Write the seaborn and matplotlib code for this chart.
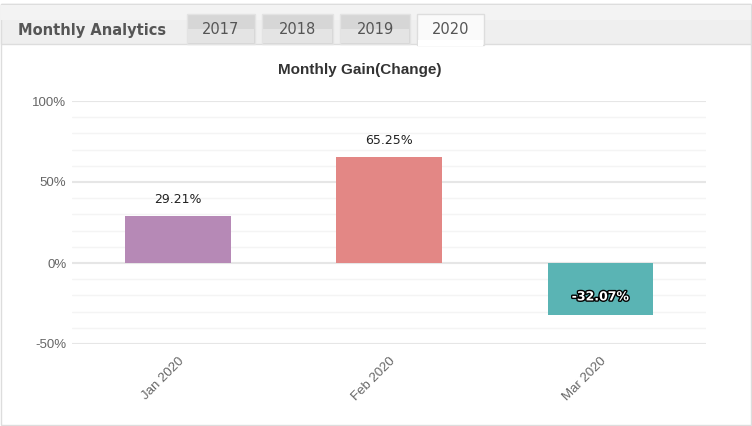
import matplotlib
matplotlib.use("Agg")
import matplotlib.pyplot as plt
import matplotlib.patheffects as pe
from matplotlib.patches import Rectangle
from matplotlib.ticker import MultipleLocator, FuncFormatter
import seaborn as sns
import pandas as pd

months = ["Jan 2020", "Feb 2020", "Mar 2020"]
gains = [29.21, 65.25, -32.07]
bar_colors = ["#B689B6", "#E38785", "#5AB4B4"]
tabs = ["2017", "2018", "2019", "2020"]

sns.set_theme(style="white")
plt.rcParams['font.family'] = ['Liberation Sans', 'DejaVu Sans']

W, H = 752, 426
fig = plt.figure(figsize=(W / 100, H / 100), dpi=100)
fig.patch.set_facecolor("white")

def px(x, y):
    return x / W, 1 - y / H

def rect(x0, y0, x1, y1, fc, ec="none", lw=1, z=0):
    fx, fy = px(x0, y1)
    r = Rectangle((fx, fy), (x1 - x0) / W, (y1 - y0) / H, transform=fig.transFigure,
                  facecolor=fc, edgecolor=ec, linewidth=lw, zorder=z)
    fig.add_artist(r)

# outer panel border
rect(1, 4, 751, 425, "white", ec="#dddddd", lw=1, z=0)
# header strip
rect(1, 4, 751, 44, "#efefef", ec="#dddddd", lw=1, z=1)
rect(1, 5, 751, 20, "#f3f3f3", z=1)
fig.text(*px(18, 30), "Monthly Analytics", fontsize=10.5, fontweight="bold",
         color="#555555", family="DejaVu Sans", va="center", ha="left", zorder=3)
tab_x = [(187, 255), (262, 333), (340, 410), (417, 484)]
for (x0, x1), t in zip(tab_x, tabs):
    active = t == "2020"
    if active:
        rect(x0, 14, x1, 45, "#fafafa", ec="#dddddd", lw=1, z=2)
        rect(x0 + 1, 40, x1 - 1, 46, "white", z=2)
    else:
        rect(x0, 14, x1, 44, "#d6d6d6", ec="#e3e3e3", lw=1, z=2)
        rect(x0 + 1, 29, x1 - 1, 43, "#e4e4e4", z=2)
    fig.text(*px((x0 + x1) / 2, 30), t, fontsize=10.5, color="#555555",
             family="DejaVu Sans", va="center", ha="center", zorder=3)

# chart title
fig.text(*px(360, 70), "Monthly Gain(Change)", fontsize=11, fontweight="bold",
         color="#333333", ha="center", va="center")

# axes
ax_l, ax_r, ax_t, ax_b = 72, 706, 101, 344
ax = fig.add_axes([ax_l / W, 1 - ax_b / H, (ax_r - ax_l) / W, (ax_b - ax_t) / H])
ax.set_facecolor("none")

df = pd.DataFrame({"month": months, "gain": gains})
sns.barplot(data=df, x="month", y="gain", hue="month", palette=bar_colors,
            width=0.5, legend=False, ax=ax, saturation=1, edgecolor="none", zorder=3)

ax.set_ylim(-50, 100)
ax.set_xlim(-0.5, 2.5)
ax.yaxis.set_major_locator(MultipleLocator(50))
ax.yaxis.set_minor_locator(MultipleLocator(10))
ax.yaxis.set_major_formatter(FuncFormatter(lambda v, p: f"{int(v)}%"))
ax.grid(True, which="major", axis="y", color="#e6e6e6", linewidth=1.5, zorder=0)
ax.grid(True, which="minor", axis="y", color="#f4f4f4", linewidth=1, zorder=0)
ax.grid(False, axis="x")
for s in ax.spines.values():
    s.set_visible(False)
ax.set_xlabel("")
ax.set_ylabel("")
ax.tick_params(axis="y", which="both", length=0, labelsize=9.5, labelcolor="#666666", pad=4)
ax.tick_params(axis="x", length=0, labelsize=9.5, labelcolor="#666666", pad=8)
for lab in ax.get_xticklabels():
    lab.set_rotation(45)
    lab.set_ha("right")
    lab.set_va("top")
    lab.set_rotation_mode("anchor")

for i, v in enumerate(gains):
    if v >= 0:
        ax.annotate(f"{v:.2f}%", (i, v), xytext=(0, 12), textcoords="offset points",
                    ha="center", va="center", fontsize=9, color="#222222",
                    family="DejaVu Sans", zorder=5)
    else:
        ax.annotate(f"{v:.2f}%", (i, v), xytext=(0, 13), textcoords="offset points",
                    ha="center", va="center", fontsize=9,
                    color="white", family="DejaVu Sans", fontweight="bold", zorder=5,
                    path_effects=[pe.withStroke(linewidth=2, foreground="black")])

fig.savefig("out.png", dpi=100)
